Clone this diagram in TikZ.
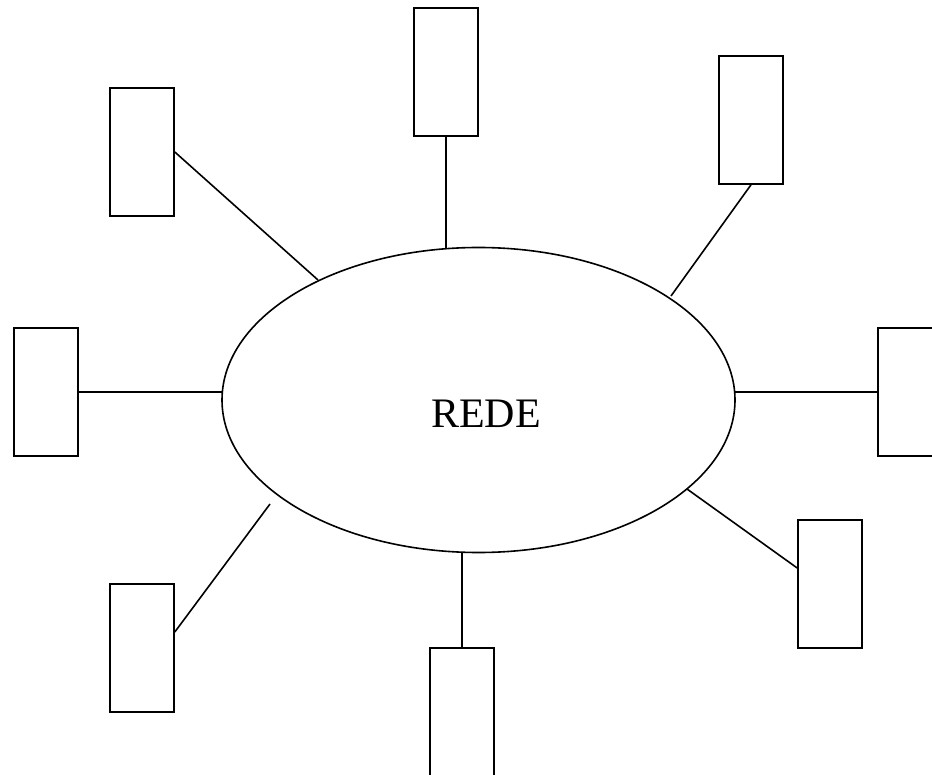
\documentclass[tikz,border=0pt]{standalone}
\usepackage{fontspec}
\setmainfont{Liberation Serif}
\usetikzlibrary{shapes.geometric}
\begin{document}
\begin{tikzpicture}[x=1pt,y=-1pt,
  line width=1.6pt,
  host/.style={draw, rectangle, minimum width=64pt, minimum height=128pt, inner sep=0pt},
  net/.style={draw, ellipse, minimum width=513pt, minimum height=305pt, inner sep=0pt},
  link/.style={line width=1.6pt}]
\useasboundingbox (0,0) rectangle (932,775);

% central network
\node[net] (ell) at (478.5,400) {};
\node[font=\fontsize{42}{48}\selectfont] (rede) at (486,414) {REDE};

% hosts around the network
\node[host] (r1) at (142,152) {};
\node[host] (r2) at (446,72) {};
\node[host] (r3) at (751,120) {};
\node[host] (r4) at (46,392) {};
\node[host] (r5) at (910,392) {};
\node[host] (r6) at (142,648) {};
\node[host] (r7) at (462,712) {};
\node[host] (r8) at (830,584) {};

% attachment points on the ellipse
\coordinate (e1) at (318,280);
\coordinate (e2) at (446,248);
\coordinate (e3) at (671,296);
\coordinate (e4) at (223,392);
\coordinate (e5) at (735,392);
\coordinate (e6) at (270,504);
\coordinate (e7) at (462,553);
\coordinate (e8) at (687,489);

% links
\draw[link] (r1.east) -- (e1);
\draw[link] (r2.south) -- (e2);
\draw[link] (r3.south) -- (e3);
\draw[link] (r4.east) -- (e4);
\draw[link] (r5.west) -- (e5);
\draw[link] ([yshift=16pt]r6.east) -- (e6);
\draw[link] (r7.north) -- (e7);
\draw[link] ([yshift=16pt]r8.west) -- (e8);
\end{tikzpicture}
\end{document}
